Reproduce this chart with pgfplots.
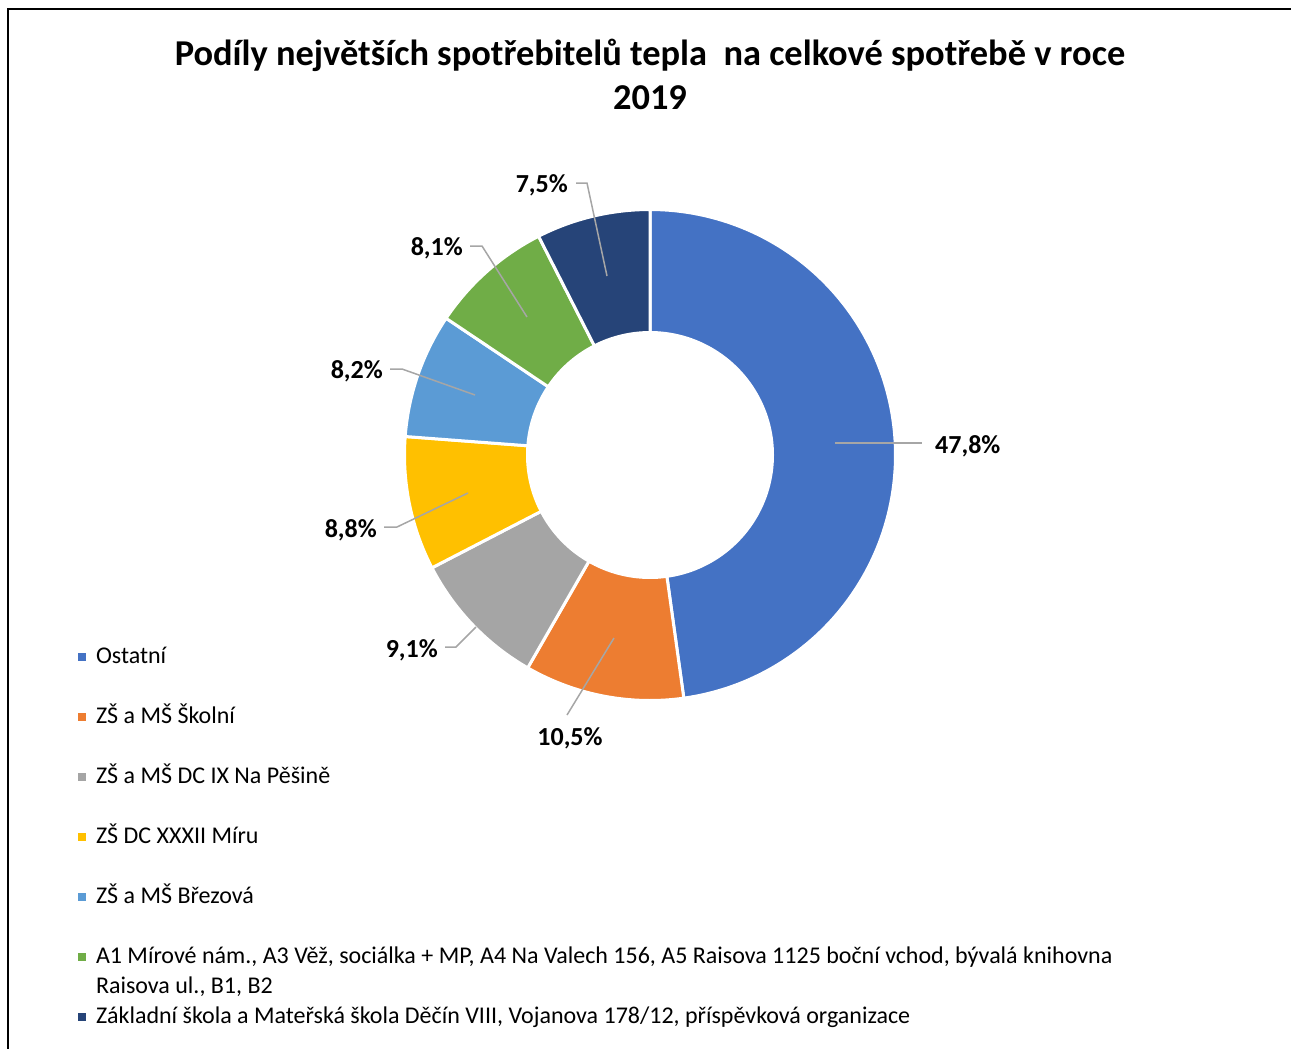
\documentclass[border=0pt]{standalone}
\usepackage{fontspec}
\setmainfont{Carlito}
\usepackage{pgfplots}
\pgfplotsset{compat=1.18}
\definecolor{cBlue}{HTML}{4472C4}
\definecolor{cOrange}{HTML}{ED7D31}
\definecolor{cGray}{HTML}{A5A5A5}
\definecolor{cYellow}{HTML}{FFC000}
\definecolor{cLtBlue}{HTML}{5B9BD5}
\definecolor{cGreen}{HTML}{70AD47}
\definecolor{cNavy}{HTML}{264478}
\definecolor{cLead}{HTML}{A6A6A6}
% #1 cumulative share before the slice (%), #2 cumulative share after it (%), #3 colour
\newcommand{\slice}[3]{%
  \addplot[fill=#3, draw=white, line width=3pt, line join=round,
    domain={90-3.6*(#2)}:{90-3.6*(#1)}, samples=120, variable=\t]
    ({650+245.5*cos(\t)},{455-245.5*sin(\t)}) -- (axis cs:650,455) -- cycle;}
\newcommand{\twolines}[2]{\begin{tabular}[t]{@{}l@{}}#1\\#2\end{tabular}}
\begin{document}
\begin{tikzpicture}
\begin{axis}[name=ax, width=1291pt, height=1049pt, scale only axis,
  xmin=0, xmax=1291, ymin=0, ymax=1049, y dir=reverse, hide axis, clip=false,
  legend image code/.code={\path[#1, draw=none] (0pt,2pt) rectangle (8pt,10pt);},
  legend style={at={(axis cs:78,646)}, anchor=north west, draw=none, fill=none,
    inner sep=0pt, outer sep=0pt, row sep=37pt, column sep=10pt,
    font=\fontsize{24}{30}\selectfont,
    cells={anchor=base west},
    nodes={anchor=base west, inner sep=0pt, outer sep=0pt, text height=17pt, text depth=6pt}},
]
% shares in % (clockwise from 12 o'clock): 47.8, 10.5, 9.1, 8.8, 8.2, 8.1, 7.5
\slice{0}{47.8}{cBlue}
\addlegendentry{Ostatní}
\slice{47.8}{58.3}{cOrange}
\addlegendentry{ZŠ a MŠ Školní}
\slice{58.3}{67.4}{cGray}
\addlegendentry{ZŠ a MŠ DC IX Na Pěšině}
\slice{67.4}{76.2}{cYellow}
\addlegendentry{ZŠ DC XXXII Míru}
\slice{76.2}{84.4}{cLtBlue}
\addlegendentry{ZŠ a MŠ Březová}
\slice{84.4}{92.5}{cGreen}
\addlegendentry{\twolines{A1 Mírové nám., A3 Věž, sociálka + MP, A4 Na Valech 156, A5 Raisova 1125 boční vchod, bývalá knihovna}{Raisova ul., B1, B2}}
\slice{92.5}{100}{cNavy}
\addlegendentry{Základní škola a Mateřská škola Děčín VIII, Vojanova 178/12, příspěvková organizace}
% hole
\addplot[fill=white, draw=none, domain=0:360, samples=180, variable=\t, forget plot]
  ({650+124*cos(\t)},{455-124*sin(\t)}) -- cycle;
% leader lines
\addplot[cLead, line width=1.5pt, forget plot] coordinates {(835,443) (922,443)};
\addplot[cLead, line width=1.5pt, forget plot] coordinates {(614,638) (567,715)};
\addplot[cLead, line width=1.5pt, forget plot] coordinates {(476,627) (456,647) (445,647)};
\addplot[cLead, line width=1.5pt, forget plot] coordinates {(468,493) (397,527) (384,527)};
\addplot[cLead, line width=1.5pt, forget plot] coordinates {(475,395) (402,369) (390,369)};
\addplot[cLead, line width=1.5pt, forget plot] coordinates {(527,317) (482,246) (470,246)};
\addplot[cLead, line width=1.5pt, forget plot] coordinates {(607,276) (587,183) (576,183)};
% labels
\begin{scope}[every node/.style={font=\fontsize{26}{30}\selectfont\bfseries, inner sep=0pt}]
\node[anchor=base west] at (axis cs:935,453) {47,8\%};
\node[anchor=base] at (axis cs:570,745) {10,5\%};
\node[anchor=base east] at (axis cs:438,657) {9,1\%};
\node[anchor=base east] at (axis cs:377,537) {8,8\%};
\node[anchor=base east] at (axis cs:383,378) {8,2\%};
\node[anchor=base east] at (axis cs:463,255) {8,1\%};
\node[anchor=base east] at (axis cs:568,192) {7,5\%};
\end{scope}
% title
\node[anchor=base, inner sep=0pt, font=\fontsize{36.4}{44}\selectfont\bfseries] at (axis cs:650,66) {Podíly největších spotřebitelů tepla\ \ na celkové spotřebě v roce};
\node[anchor=base, inner sep=0pt, font=\fontsize{36.4}{44}\selectfont\bfseries] at (axis cs:650,110) {2019};
% frame
\draw[line width=2pt, black] (axis cs:7.5,1049) -- (axis cs:7.5,9.5) -- (axis cs:1291,9.5);
\end{axis}
\pgfresetboundingbox
\useasboundingbox (ax.south west) rectangle (ax.north east);
\end{tikzpicture}
\end{document}
